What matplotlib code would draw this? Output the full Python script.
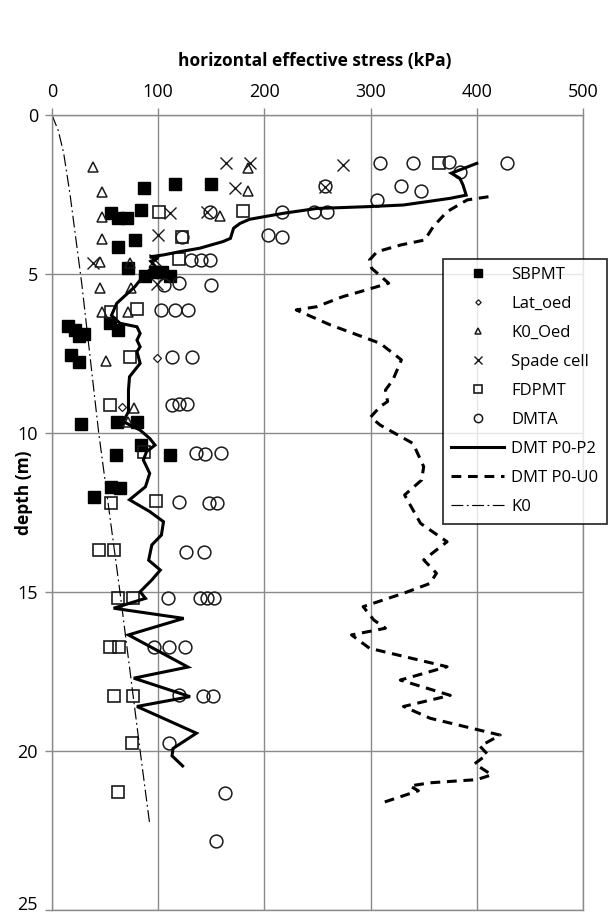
import matplotlib
matplotlib.use('Agg')
import matplotlib.pyplot as plt

plt.rcParams['font.family'] = ['Open Sans', 'DejaVu Sans']

# ---- data (stress in kPa, depth in m) ----
SBPMT_S = [87, 116, 150, 84, 56, 62, 71, 78, 62, 72, 88, 97, 104, 111,
           15, 22, 25, 30, 55, 62, 18, 25, 27, 61, 80, 84, 60, 111, 56, 64, 40]
SBPMT_D = [2.28, 2.18, 2.18, 2.99, 3.09, 3.25, 3.25, 3.93, 4.14, 4.82, 5.06, 4.93, 4.93, 5.06,
           6.65, 6.75, 6.95, 6.9, 6.55, 6.76, 7.55, 7.76, 9.72, 9.64, 9.64, 10.38, 10.69, 10.69, 11.69, 11.74, 12.0]

LATOED_S = [99, 66]
LATOED_D = [7.65, 9.17]

K0OED_S = [39, 47, 47, 47, 45, 73, 158, 185, 185, 45, 74, 47, 72, 51, 77, 72]
K0OED_D = [1.62, 2.41, 3.22, 3.91, 4.61, 4.64, 3.18, 1.68, 2.38, 5.45, 5.45, 6.2, 6.2, 7.74, 9.2, 9.65]

SPADE_S = [164, 186, 172, 111, 146, 100, 39, 97, 274, 257, 99]
SPADE_D = [1.52, 1.5, 2.28, 3.07, 3.04, 3.77, 4.64, 4.56, 1.57, 2.25, 5.3]

FDPMT_S = [101, 180, 122, 120, 364, 56, 80, 73, 55, 87, 56, 98, 44, 58,
           62, 76, 55, 63, 58, 76, 75, 62]
FDPMT_D = [3.04, 3.02, 3.85, 4.54, 1.52, 6.18, 6.11, 7.62, 9.12, 10.59, 12.19, 12.13, 13.68, 13.68,
           15.2, 15.2, 16.72, 16.72, 18.27, 18.27, 19.74, 21.28]

DMTA_S = [309, 340, 374, 384, 428, 329, 347, 257, 306, 217, 247, 259, 203, 217,
          149, 122, 131, 140, 149, 105, 120, 150, 103, 116, 128, 113, 132,
          113, 120, 127, 136, 144, 159, 120, 148, 155, 126, 143,
          109, 139, 146, 153, 96, 110, 125, 120, 142, 152, 110, 163, 154]
DMTA_D = [1.52, 1.52, 1.47, 1.78, 1.52, 2.23, 2.39, 2.23, 2.67, 3.04, 3.04, 3.04, 3.77, 3.83,
          3.04, 3.83, 4.56, 4.56, 4.56, 5.35, 5.29, 5.35, 6.13, 6.13, 6.13, 7.6, 7.6,
          9.12, 9.1, 9.1, 10.64, 10.66, 10.62, 12.16, 12.19, 12.19, 13.73, 13.73,
          15.2, 15.2, 15.2, 15.2, 16.72, 16.72, 16.72, 18.24, 18.27, 18.27, 19.74, 21.33, 22.83]

P0P2_S = [400, 376, 384, 387, 390, 375, 331, 299, 249, 218, 186, 177, 171, 168, 161, 139,
          120, 105, 92, 100, 93, 97, 88, 83, 78, 61, 56, 64, 80, 83, 80, 83, 80, 83, 73,
          72, 72, 72, 67, 83, 92, 97, 89, 86, 92, 88, 73, 92, 105, 103, 94, 91, 102, 94,
          83, 88, 58, 124, 72, 128, 77, 130, 80, 136, 114, 113, 123]
P0P2_D = [1.52, 1.83, 1.99, 2.2, 2.52, 2.62, 2.83, 2.88, 2.94, 3.09, 3.28, 3.41, 3.56, 3.88,
          3.98, 4.19, 4.30, 4.40, 4.46, 4.5, 4.6, 4.75, 4.98, 5.19, 5.4, 5.92, 6.3, 6.55,
          6.66, 6.87, 7.08, 7.29, 7.44, 7.81, 8.23, 8.65, 8.96, 9.33, 9.64, 9.91, 10.17,
          10.38, 10.59, 10.85, 11.27, 11.69, 12.1, 12.47, 12.79, 13.21, 13.52, 14.0, 14.31,
          14.62, 14.99, 15.2, 15.51, 15.83, 16.35, 17.36, 17.71, 18.29, 18.6, 19.44, 19.92,
          20.15, 20.47]

P0U0_S = [411, 391, 372, 359, 351, 328, 306, 299, 301, 317, 296, 274, 249, 230, 262, 309,
          329, 321, 314, 316, 309, 300, 309, 340, 350, 348, 332, 347, 372, 350, 362, 356,
          331, 293, 303, 314, 282, 299, 372, 328, 375, 331, 356, 422, 403, 410, 398, 414,
          400, 356, 337, 345, 309]
P0U0_D = [2.57, 2.67, 3.04, 3.51, 3.93, 4.09, 4.30, 4.56, 4.82, 5.29, 5.50, 5.71, 6.03, 6.13,
          6.6, 7.18, 7.7, 8.33, 8.65, 9.01, 9.17, 9.5, 9.75, 10.33, 11.06, 11.48, 11.95,
          12.84, 13.42, 13.99, 14.41, 14.73, 15.04, 15.46, 15.88, 16.14, 16.35, 16.77,
          17.35, 17.77, 18.25, 18.6, 18.97, 19.5, 19.85, 20.1, 20.4, 20.75, 20.9, 21.0,
          21.1, 21.25, 21.65]

K0_S = [0, 6, 11, 17, 28, 44, 64, 83, 92]
K0_D = [0, 0.5, 1.2, 2.5, 5.3, 10, 15, 20, 22.3]

X_TICKS = [0, 100, 200, 300, 400, 500]
Y_TICKS = [0, 5, 10, 15, 20, 25]

GRID = '#8a8a8a'
INK = '#1a1a1a'

fig = plt.figure(figsize=(6.09, 9.16), dpi=100)
ax = fig.add_axes([52 / 609, 6 / 916, 531 / 609, 795 / 916])

# markers
ax.plot(SBPMT_S, SBPMT_D, ls='none', marker='s', ms=8.4, mfc='black', mec='black', label='SBPMT')
ax.plot(LATOED_S, LATOED_D, ls='none', marker='D', ms=4.2, mfc='white', mec=INK, mew=0.9, label='Lat_oed')
ax.plot(K0OED_S, K0OED_D, ls='none', marker='^', ms=7, mfc='none', mec=INK, mew=1.1, label='K0_Oed')
ax.plot(SPADE_S, SPADE_D, ls='none', marker='x', ms=8, mec=INK, mew=1.0, label='Spade cell')
ax.plot(FDPMT_S, FDPMT_D, ls='none', marker='s', ms=8.8, mfc='none', mec=INK, mew=1.2, label='FDPMT')
ax.plot(DMTA_S, DMTA_D, ls='none', marker='o', ms=9.2, mfc='none', mec=INK, mew=1.1, label='DMTA')

# profiles
ax.plot(P0P2_S, P0P2_D, color='black', lw=2.2, solid_joinstyle='miter', label='DMT P0-P2')
ax.plot(P0U0_S, P0U0_D, color='black', lw=2.2, ls=(0, (3.2, 2.2)), label='DMT P0-U0')
ax.plot(K0_S, K0_D, color='black', lw=0.85, ls=(0, (10, 3, 1.5, 3)), label='K0')

ax.set_xlim(0, 500)
ax.set_ylim(25, 0)
ax.set_xticks(X_TICKS)
ax.set_yticks(Y_TICKS)
ax.xaxis.tick_top()
ax.xaxis.set_label_position('top')
ax.grid(True, color=GRID, lw=1.0)
ax.set_axisbelow(True)
for sp in ax.spines.values():
    sp.set_color(GRID)
    sp.set_linewidth(1.0)
ax.tick_params(direction='out', length=5, width=1.0, color=GRID, labelsize=13, pad=5)
# keep the bottom label inside the picture
ax.get_yticklabels()[-1].set_verticalalignment('baseline')

ax.set_xlabel('horizontal effective stress (kPa)', fontsize=12.5, fontweight='bold')
ax.xaxis.set_label_coords(0.495, 1.062)
ax.set_ylabel('depth (m)', fontsize=12.5, fontweight='bold')
ax.yaxis.set_label_coords(-0.036, 0.525)

leg = ax.legend(loc='upper left', bbox_to_anchor=(0.736, 0.819), borderaxespad=0,
                fontsize=12, frameon=True, fancybox=False, edgecolor='black',
                markerscale=0.65, numpoints=1, handlelength=3.2, handletextpad=0.4,
                labelspacing=0.78, borderpad=0.5)
leg.get_frame().set_linewidth(1.3)

fig.savefig('out.png', dpi=100)
